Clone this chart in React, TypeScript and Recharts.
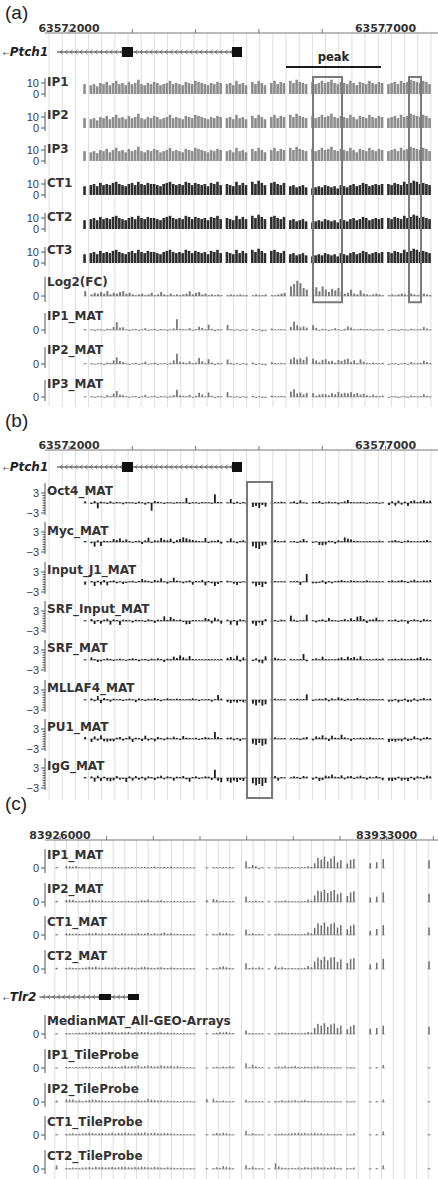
import React from 'react';
import { BarChart, Bar, XAxis, YAxis, ComposedChart, ReferenceLine, ReferenceArea } from 'recharts';

const _ = null;
type V = number | null;

// ---------- Panels (a) & (b): Ptch1 locus, 50-bp bins starting at 63571625 ----------
const ptchIP: V[] = [
  _,_,_,_,_,_,_,_,_,_,_,_, 9, _,
  8,9,7,10,9,11,8, 10,12,9,10,8,11,9, 10,13,9,8,10,9,11, 10,8,9,10,12,9,10, 9,8,11,10,9,12,11, 10,9,8,10,9,11,10,
  _, 9,10,8,12,9,10,8, _, 11,9,12,10,8, _, 10,12,9,11,10, _, 12,10,13,11,10,9, _,
  11,9,10,12,10,11,13, 10,9,11,10,9,12,10, 8,11,10,9,12,10,9, 11,10,
  _, 9,10,11,9,12,10,11, 13,12,11,10,12,11,9, _,_,
];
const ptchCT: V[] = [
  _,_,_,_,_,_,_,_,_,_,_,_, 8, _,
  9,10,8,11,9,10,9, 11,12,10,9,8,10,11, 9,12,10,9,11,10,10, 9,8,10,11,12,10,9, 10,9,12,11,9,11,10, 9,10,8,11,10,12,9,
  _, 10,9,8,12,9,11,9, _, 12,10,13,11,9, _, 11,12,10,9,11, _, 8,9,7,8,9,7, _,
  6,7,8,7,9,8,7, 8,6,9,8,7,9,10, 8,9,11,10,8,9,10, 9,10,
  _, 10,9,11,10,9,12,10, 11,13,12,10,11,10,9, _,_,
];
const ptchLog2FC: V[] = [
  _,_,_,_,_,_,_,_,_,_,_,_, 0.6, _,
  0.2,0.4,0.3,0.5,0.3,0.6,0.2, 0.4,0.3,0.5,0.6,0.3,0.4,0.2, 0.1,0.2,0.3,0.1,0.2,0.4,0.1, 0.2,0.5,0.2,0.1,0.3,0.1,0.2, 0.1,0.2,0.3,0.6,0.2,0.4,0.5, 0.2,0.3,0.1,0.2,0.1,0.2,0.1,
  _, 0.1,0.2,0.1,0.1,0.2,0.1,0.1, _, 0.1,0.2,0.1,0.1,0.2, _, 0.1,0.1,0.2,0.3,0.4, _, 1.2,1.5,1.9,1.6,1.0,0.8, _,
  0.9,1.1,0.6,1.2,0.8,0.5,0.9, 0.7,1.0,0.6,0.3,0.4,0.8,0.3, 0.2,0.7,0.3,0.2,0.1,0.2,0.3, 0.2,0.1,
  _, 0.1,0.2,0.1,0.2,0.3,0.2,0.1, 0.3,0.2,0.1,0.4,0.3,0.2,0.1, _,_,
];
const ptchIP1MAT: V[] = [
  _,_,_,_,_,_,_,_,_,_,_,_, 0.3, _,
  0.2,-0.3,0.1,0.2,-0.2,0.4,0.3, 1.0,2.6,0.8,0.9,0.2,-0.3,0.1, 0.3,-0.2,0.2,0.6,-0.3,0.1,0.4, -0.2,0.3,0.1,-0.3,0.2,0.5,3.6, 0.4,0.3,0.2,0.6,-0.2,0.3,1.1, 0.7,0.2,1.8,0.4,-0.4,0.3,0.2,
  _, 1.7,0.3,-0.2,0.2,-0.3,0.1,-0.2, _, 0.4,-0.2,0.1,-0.4,-0.3, _, 0.5,0.2,0.1,0.3,0.2, _, 1.0,2.8,1.6,0.9,1.2,0.8, _,
  1.6,0.7,-0.2,0.4,0.3,-0.3,0.2, 0.6,0.1,-0.2,0.4,1.2,0.8,0.3, 0.1,0.4,0.2,0.3,0.1,-0.2,0.2, 0.1,0.3,
  _, -0.2,0.1,0.2,-0.3,0.3,0.2,-0.2, 0.4,0.2,0.1,0.3,1.0,0.5,0.2, _,_,
];
const ptchIP2MAT: V[] = [
  _,_,_,_,_,_,_,_,_,_,_,_, 0.2, _,
  0.3,-0.2,0.2,0.1,-0.3,0.5,0.4, 1.2,2.2,1.0,0.7,0.3,-0.2,0.2, 0.4,-0.3,0.3,0.8,-0.2,0.2,0.5, -0.3,0.2,0.3,-0.2,0.4,1.2,3.4, 0.8,0.6,0.4,0.9,0.3,0.5,2.0, 0.9,0.3,1.6,0.5,-0.3,0.4,0.3,
  _, 1.5,0.4,-0.3,0.3,-0.2,0.2,-0.3, _, 0.5,-0.3,0.2,-0.3,-0.4, _, 0.6,0.3,0.2,0.4,0.2, _, 1.6,2.2,1.5,1.9,1.4,2.4, _,
  1.8,1.2,0.6,1.4,1.6,0.9,1.1, 0.4,1.3,1.0,1.5,1.8,0.7,1.2, 0.4,1.6,0.8,0.3,0.2,0.5,0.3, 0.2,0.4,
  _, -0.2,0.2,0.3,-0.3,0.2,0.3,-0.2, 0.6,0.3,0.2,0.4,1.1,0.6,0.3, _,_,
];
const ptchIP3MAT: V[] = [
  _,_,_,_,_,_,_,_,_,_,_,_, 0.2, _,
  0.2,-0.2,0.3,0.2,-0.2,0.6,0.3, 1.1,2.0,0.8,0.6,0.2,-0.2,0.1, 0.3,-0.3,0.2,0.7,-0.2,0.1,0.4, -0.2,0.3,0.2,-0.2,0.3,0.6,2.4, 0.5,0.4,0.3,0.7,-0.2,0.4,1.4, 0.8,0.2,1.5,0.4,-0.3,0.3,0.2,
  _, 1.6,0.3,-0.2,0.2,-0.3,0.2,-0.2, _, 0.4,-0.2,0.1,-0.3,-0.3, _, 0.5,0.2,0.2,0.3,0.2, _, 1.8,2.6,1.2,1.5,0.9,1.4, _,
  1.3,0.4,0.8,1.0,0.9,0.6,1.3, 0.9,1.7,1.1,1.4,1.2,1.6,1.0, 1.3,0.8,1.1,0.6,0.3,0.8,0.4, 0.3,0.5,
  _, -0.2,0.1,0.3,-0.3,0.2,0.2,-0.2, 0.5,0.3,0.1,0.3,0.9,0.4,0.2, _,_,
];
const oct4MAT: V[] = [
  _,_,_,_,_,_,_,_,_,_,_,_, 0.5, _,
  -0.3,0.6,-1.6,0.4,0.2,-0.3,0.5, -0.2,0.3,0.2,-0.4,0.3,0.2,0.1, -0.3,0.4,0.2,-0.5,0.3,-2.3,0.6, 0.4,0.2,-0.3,0.1,0.2,-0.2,0.3, 0.1,0.2,1.5,-0.3,0.2,0.1,-0.2, 0.3,0.1,0.2,-0.2,2.6,0.3,0.1,
  _, 0.2,1.2,-0.3,0.4,-0.2,0.3,-0.4, _, -1.2,-0.9,-1.5,-0.6,-1.1, _, 0.3,0.1,0.2,0.4,0.1, _, 0.2,0.5,-0.3,0.8,0.2,-0.2, _,
  0.3,0.1,0.6,-0.3,0.2,0.4,0.1, 0.3,-0.4,0.2,0.5,0.9,0.3,0.1, 0.2,0.3,0.1,-0.2,0.2,0.1,0.3, -0.2,0.1,
  _, -0.6,0.5,-0.8,0.7,-0.5,0.4,-0.9, 0.6,0.8,0.3,0.5,0.9,0.4,0.7, _,_,
];
const mycMAT: V[] = [
  _,_,_,_,_,_,_,_,_,_,_,_, 0.3, _,
  -0.4,-1.4,0.5,-1.2,0.4,0.3,0.2, 0.9,0.6,1.1,0.4,0.8,0.3,-0.2, 0.3,0.4,-0.6,0.5,1.3,-0.3,0.5, 0.4,1.2,0.7,0.5,1.0,-0.4,0.6, 0.9,1.4,1.1,0.8,0.6,0.4,0.3, 0.2,1.2,-0.3,0.4,0.3,0.6,-0.5,
  _, 0.3,1.1,0.2,-0.4,0.3,0.5,-0.3, _, -1.3,-1.8,-2.1,-1.1,-0.8, _, 1.0,0.6,0.3,0.2,0.4, _, 0.2,0.3,-0.3,0.4,0.9,0.3, _,
  -0.3,0.2,-0.9,-1.0,-0.8,0.4,0.3, -0.5,0.5,0.3,1.4,1.0,0.8,0.4, 0.3,0.2,0.1,0.2,0.3,0.1,0.2, 0.4,0.2,
  _, 0.2,0.4,0.6,0.3,-0.3,0.2,0.5, 0.3,0.2,0.1,0.3,0.4,0.6,0.2, _,_,
];
const inputJ1MAT: V[] = [
  _,_,_,_,_,_,_,_,_,_,_,_, -0.8, _,
  0.3,-1.2,0.4,-0.8,0.6,-1.0,0.3, 0.5,-0.4,0.2,-0.6,-0.3,0.2,0.4, -0.2,0.3,0.9,0.5,0.3,-0.3,0.6, 0.4,1.1,0.2,-0.5,0.3,1.3,0.4, 0.2,-0.4,0.3,0.5,-0.8,0.3,0.2, 0.6,-1.0,0.3,-0.4,-1.2,-0.6,0.3,
  _, 0.4,0.2,-0.5,-0.9,-0.3,0.2,-0.2, _, -0.4,-1.3,-0.9,-1.5,-0.6, _, 0.8,0.3,0.2,0.1,0.2, _, 0.1,0.2,0.3,-0.9,0.2,2.4, _,
  -0.4,-0.4,-0.3,0.5,-0.6,0.3,-0.4, 0.2,0.4,0.6,0.3,0.2,0.5,0.4, 0.3,0.2,0.3,0.5,0.2,0.1,0.3, 0.2,0.1,
  _, 0.3,0.5,0.2,0.4,0.6,0.3,-0.3, 0.4,0.7,0.3,0.2,0.5,0.4,0.6, _,_,
];
const srfInputMAT: V[] = [
  _,_,_,_,_,_,_,_,_,_,_,_, 0.2, _,
  0.6,-0.9,0.3,-0.8,0.4,0.7,-1.1, 0.5,0.3,-1.2,0.4,0.3,0.2,-0.5, 0.4,0.3,0.2,-0.3,0.5,0.3,-0.6, 0.4,0.3,1.4,0.3,1.2,0.6,0.2, 0.4,-0.3,-1.0,-0.9,0.3,0.2,0.1, 0.2,0.9,0.6,-0.7,1.0,0.5,-0.8,
  _, 0.4,-1.1,0.3,-1.3,0.5,0.3,-0.6, _, -0.8,-1.4,-0.5,-1.2,0.6, _, 1.2,0.3,-0.2,0.4,0.2, _, 1.6,0.4,-0.3,0.2,0.3,1.9, _,
  0.2,-0.4,0.3,0.5,-0.3,0.9,0.3, 0.2,-0.2,0.3,0.6,0.2,0.8,0.3, 1.3,1.5,0.6,-0.6,0.4,0.5,1.0, 0.3,0.2,
  _, 0.3,0.2,0.5,-0.3,0.4,0.2,-0.8, 0.3,0.5,0.3,-0.4,0.6,0.4,0.3, _,_,
];
const srfMAT: V[] = [
  _,_,_,_,_,_,_,_,_,_,_,_, 0.2, _,
  0.8,0.3,-0.6,-0.4,0.2,0.5,0.3, -0.3,0.2,0.4,0.2,-0.2,0.3,0.5, 0.3,-0.4,0.2,0.3,-0.3,0.4,0.2, 0.5,0.3,-0.6,0.4,0.3,1.0,0.6, 1.4,0.8,0.4,1.2,0.3,0.2,0.1, 0.2,0.1,0.3,0.2,0.1,0.2,0.3,
  _, 0.6,0.9,0.4,1.3,-0.5,0.8,0.3, _, -0.3,0.5,-0.7,-1.0,1.1, _, 1.0,0.7,0.4,0.2,0.3, _, 0.3,0.2,0.1,0.3,1.8,-0.4, _,
  0.3,0.5,0.2,1.0,0.3,0.2,0.1, 0.2,0.5,0.8,0.3,1.0,0.6,0.9, 0.4,1.1,0.2,0.3,0.1,0.2,0.4, 0.3,0.5,
  _, 0.2,0.3,0.4,0.2,0.5,0.3,0.2, 0.4,0.3,0.6,0.9,0.4,0.5,0.3, _,_,
];
const mllaf4MAT: V[] = [
  _,_,_,_,_,_,_,_,_,_,_,_, 0.2, _,
  0.5,-0.4,1.2,-0.9,0.6,0.3,-0.5, 0.4,0.2,0.3,-0.3,0.2,0.4,0.2, -0.6,0.5,0.3,-0.3,0.4,0.2,0.6, 0.3,-0.4,0.2,0.5,0.3,0.2,0.4, 0.3,0.2,0.1,0.3,0.5,0.2,-0.3, 0.2,0.1,0.3,-0.5,0.2,1.5,0.4,
  _, -0.6,-0.9,-0.5,-0.8,-0.4,-0.7,-0.9, _, -1.1,-1.6,-0.8,-1.7,-1.3, _, 0.9,0.4,0.2,0.1,0.2, _, 0.1,0.2,0.4,0.2,0.3,1.7, _,
  -0.3,0.2,0.4,0.3,0.6,-0.4,0.5, 0.2,0.8,0.5,-0.3,0.4,0.2,0.3, 0.6,0.2,0.4,0.1,0.2,0.3,0.1, 0.2,0.3,
  _, -0.5,-0.4,0.3,-0.7,-0.3,0.4,-0.6, -0.5,0.5,-0.4,0.3,0.6,0.2,0.4, _,_,
];
const pu1MAT: V[] = [
  _,_,_,_,_,_,_,_,_,_,_,_, 0.6, _,
  -0.9,0.8,-0.5,1.1,-0.7,-0.8,-0.6, -0.7,0.4,0.6,-0.5,0.3,0.8,-0.9, 0.4,0.3,-0.6,1.0,-0.5,0.3,-0.7, 0.6,0.3,-0.4,0.5,0.2,0.7,0.3, -0.3,0.9,0.4,0.3,0.2,0.4,-0.3, 0.3,0.6,0.4,0.2,2.1,0.6,0.3,
  _, 0.4,0.5,-0.4,0.3,-0.6,0.2,0.4, _, -1.4,-1.8,-1.2,-2.0,-1.6, _, 1.4,0.5,0.2,0.1,0.3, _, 0.2,0.1,0.3,-0.3,0.4,0.6, _,
  -0.4,0.8,0.5,1.1,0.4,-0.6,1.0, 0.4,0.3,1.3,0.5,0.2,-0.6,0.3, 0.2,0.4,0.3,0.2,0.5,0.3,0.2, 0.1,0.2,
  _, -0.9,-0.6,-0.8,-0.5,-0.7,0.5,-0.6, -0.4,0.8,0.3,-0.5,0.4,0.6,0.3, _,_,
];
const iggMAT: V[] = [
  _,_,_,_,_,_,_,_,_,_,_,_, 0.3, _,
  0.5,-1.1,0.7,-0.9,0.4,-0.8,-1.0, -0.7,0.6,-0.5,-0.3,-1.2,0.5,-0.8, 0.6,-0.5,0.4,-0.7,0.5,0.3,-0.6, 0.4,0.7,-0.4,0.5,0.3,-0.8,0.4, 0.3,0.6,-0.4,-1.1,0.3,0.5,-0.3, 0.2,0.5,0.4,-0.6,2.5,-0.8,-1.3,
  _, -1.0,-1.4,-0.8,-1.2,-0.6,-0.9,0.3, _, -1.6,-2.2,-1.8,-2.4,-1.5, _, 1.3,0.6,-0.8,0.3,0.2, _, 0.2,0.5,0.3,-0.3,0.6,0.4, _,
  -0.5,0.4,-0.9,-0.6,0.7,0.5,1.0, 0.4,0.3,0.8,-0.4,0.5,0.6,-0.3, 0.4,0.7,0.3,-0.5,0.4,0.2,0.6, 0.3,-0.7,
  _, -0.8,-0.9,-0.6,0.4,-0.8,-0.5,-0.9, 0.4,-0.6,0.5,0.3,-0.4,0.7,0.5, _,_,
];

// ---------- Panel (c): Tlr2 locus, 70-bp bins starting at 83925680 ----------
const tlrIP1MAT: V[] = [
  _,_,_, 0.3, _,_,
  0.6,0.6,0.5,0.6,0.2,0.1,0.2,0.3, 0.1,0.2,0.1,0.3,0.2,0.1,0.2,0.3, 0.1,0.2,0.1,0.2,0.3,0.2,0.1,0.3, 0.4,0.2,0.3,0.5,0.3,0.2,0.4,0.3, 0.5,0.2,0.3,0.2,0.1,0.2,0.1,0.2,
  _,_,_, 0.2, _, 0.3,0.1,0.2,0.3,0.2,0.4,0.2, _,_,_, 2.2, 0.3,1.0,0.6,-0.4,0.2, _, 0.2, _,
  0.1,0.2,0.1,0.2,0.3,0.2,0.1,0.2,0.2,0.3,0.6,0.4,
  1.6,3.4,2.8,3.8,2.2,3.2,3.9,1.9,2.6, _, 1.5,2.7,3.0, _,_,_,_, 1.6, _, 1.9, _, 3.0,
  _,_,_,_,_,_,_,_,_,_,_,_,_, 2.6, _,_,
];
const tlrIP2MAT: V[] = [
  _,_,_, 0.4, _,_,
  0.7,0.8,0.7,0.3,0.2,0.3,0.4,0.6, 0.8,0.5,0.4,0.6,0.3,0.2,0.4,0.3, 0.2,0.3,0.2,0.4,0.3,0.2,0.4,0.6, 0.5,0.8,0.4,0.3,0.5,0.6,0.3,0.2, 0.3,0.4,0.2,0.3,0.2,0.1,0.2,0.3,
  _,_,_, 0.6, _, 1.0,0.7,0.2,0.4,0.3,0.2,0.3, _,_,_, 1.8, 0.2,0.3,0.5,0.2,0.3, _, 0.2, _,
  0.2,0.1,0.3,0.5,0.2,0.1,0.2,0.1,0.2,0.3,0.8,0.5,
  2.2,3.8,3.5,4.1,3.0,3.6,4.0,2.6,3.1, _, 2.0,3.2,3.6, _,_,_,_, 1.5, _, 1.8, _, 3.2,
  _,_,_,_,_,_,_,_,_,_,_,_,_, 2.8, _,_,
];
const tlrCT1MAT: V[] = [
  _,_,_, 0.3, _,_,
  0.5,0.5,0.4,0.5,0.3,0.2,0.4,0.6, 0.5,0.7,0.4,0.5,0.3,0.6,0.4,0.5, 0.3,0.6,0.4,0.3,0.5,0.4,0.6,0.3, 0.5,0.7,0.4,0.6,0.3,0.5,0.8,0.4, 0.6,0.3,0.4,0.2,0.3,0.2,0.1,0.2,
  _,_,_, 0.2, _, 0.4,0.2,0.8,0.5,0.7,0.3,0.2, _,_,_, 1.8, 0.3,0.6,0.2,0.4,0.2, _, 0.2, _,
  0.3,0.5,0.3,0.2,0.3,0.2,0.3,0.2,0.2,0.4,0.9,0.6,
  2.4,3.9,3.2,4.2,2.8,3.7,4.1,2.5,3.3, _, 1.9,3.1,3.5, _,_,_,_, 1.4, _, 2.0, _, 3.3,
  _,_,_,_,_,_,_,_,_,_,_,_,_, 2.5, _,_,
];
const tlrCT2MAT: V[] = [
  _,_,_, 0.4, _,_,
  0.4,0.5,0.4,0.3,0.2,0.4,0.5,0.7, 0.6,0.8,0.5,0.4,0.6,0.5,0.4,0.6, 0.3,0.5,0.4,0.6,0.5,0.3,0.4,0.6, 0.7,0.5,0.4,0.3,0.5,0.6,0.4,0.3, 0.5,0.4,0.3,0.2,0.3,0.2,0.2,0.1,
  _,_,_, 0.2, _, 0.3,0.2,0.7,0.9,0.6,0.4,0.2, _,_,_, 1.9, 0.3,0.5,0.2,0.6,0.2, _, 0.2, _,
  0.9,0.4,0.6,0.3,0.2,0.3,0.2,0.3,0.2,0.4,1.0,0.6,
  2.5,3.8,3.1,4.1,2.9,3.8,4.0,2.4,3.2, _, 2.0,3.3,3.6, _,_,_,_, 1.5, _, 2.1, _, 3.4,
  _,_,_,_,_,_,_,_,_,_,_,_,_, 2.6, _,_,
];
const tlrMedianMAT: V[] = [
  _,_,_, 0.2, _,_,
  0.3,0.3,0.2,0.3,0.4,0.3,0.5,0.4, 0.6,0.5,0.4,0.6,0.5,0.7,0.6,0.5, 0.4,0.6,0.5,0.7,0.4,0.5,0.6,0.7, 0.5,0.6,0.4,0.5,0.6,0.5,0.4,0.5, 0.3,0.4,0.3,0.2,0.3,0.2,0.1,0.2,
  _,_,_, 0.2, _, 0.3,0.4,0.6,0.5,0.7,0.4,0.3, _,_,_, 1.2, 0.2,0.3,0.2,0.3,0.2, _, 0.2, _,
  0.2,0.4,0.5,0.4,0.3,0.4,0.3,0.2,0.3,0.4,0.7,0.5,
  2.0,3.4,2.8,3.6,2.4,3.2,3.5,2.0,2.8, _, 1.6,2.5,3.0, _,_,_,_, 1.8, _, 2.0, _, 2.8,
  _,_,_,_,_,_,_,_,_,_,_,_,_, 2.4, _,_,
];
const tlrIP1Tile: V[] = [
  _,_,_, 0.2, _,_,
  0.3,0.3,0.2,0.4,0.2,0.3,0.5,0.4, 0.3,0.2,0.4,0.5,0.3,0.6,0.4,0.5, 0.3,0.6,0.8,0.5,0.7,0.6,0.9,0.5, 0.6,0.8,0.7,0.5,0.6,0.9,0.7,0.6, 0.8,0.5,0.7,0.4,0.3,0.2,0.3,0.2,
  _,_,_, 0.2, _, 0.3,0.4,0.2,0.5,0.3,0.6,0.4, _,_,_, 1.6, 0.2,1.1,0.6,0.3,0.2, _, 0.2, _,
  0.3,0.5,0.4,0.6,0.3,0.5,0.7,0.4,0.3,0.5,0.4,0.3,
  0.5,0.6,0.3,0.4,0.2,0.3,0.2,0.1,0.2, _, 0.2,0.3,0.2, _,_,_,_, 0.2, _, 0.3, _, 1.0,
  _,_,_,_,_,_,_,_,_,_,_,_,_, 0.3, _,_,
];
const tlrIP2Tile: V[] = [
  _,_,_, 0.5, _,_,
  0.9,0.8,0.9,0.4,0.6,0.3,0.5,0.7, 0.9,0.8,0.6,0.5,0.4,0.3,0.4,0.3, 0.5,0.3,0.4,0.3,0.5,0.4,0.6,0.4, 0.5,1.1,0.8,0.7,0.5,0.6,0.4,0.5, 0.3,0.4,0.3,0.2,0.3,0.2,0.1,0.2,
  _,_,_, 1.0, _, 1.1,0.4,0.3,0.5,0.3,0.2,0.3, _,_,_, 0.8, 0.2,0.3,0.2,0.3,0.2, _, 0.2, _,
  0.4,0.3,0.6,0.3,0.5,0.4,0.6,0.3,0.5,0.7,0.4,0.3,
  0.3,0.2,0.3,0.2,0.3,0.2,0.1,0.2,0.1, _, 0.2,0.2,0.3, _,_,_,_, 0.2, _, 0.3, _, 0.8,
  _,_,_,_,_,_,_,_,_,_,_,_,_, 0.3, _,_,
];
const tlrCT1Tile: V[] = [
  _,_,_, 0.3, _,_,
  0.4,0.5,0.6,0.3,0.4,0.5,0.6,0.8, 0.7,0.5,0.6,0.7,0.5,0.6,0.8,0.5, 0.7,0.6,0.8,0.7,0.5,0.6,0.8,0.7, 0.9,0.6,0.7,0.8,0.6,0.5,0.7,0.6, 0.5,0.4,0.3,0.4,0.3,0.2,0.3,0.2,
  _,_,_, 0.3, _, 0.4,0.7,0.5,0.8,0.6,0.3,0.2, _,_,_, 1.4, 0.2,0.6,0.3,0.2,0.2, _, 0.2, _,
  0.3,0.4,0.5,0.4,0.5,0.6,0.7,0.8,0.6,0.7,0.5,0.6,
  0.7,0.5,0.6,0.4,0.5,0.3,0.4,0.2,0.3, _, 0.3,0.2,0.6, _,_,_,_, 0.2, _, 0.3, _, 1.2,
  _,_,_,_,_,_,_,_,_,_,_,_,_, 0.3, _,_,
];
const tlrCT2Tile: V[] = [
  _,_,_, 1.2, _,_,
  0.4,0.3,0.5,0.4,0.3,0.5,0.6,0.7, 0.5,0.8,0.6,0.7,0.5,0.6,0.7,0.5, 0.6,0.8,0.7,0.6,0.5,0.7,0.6,0.8, 0.7,0.6,0.5,0.7,0.6,0.5,0.4,0.6, 0.5,0.4,0.3,0.4,0.3,0.2,0.3,0.2,
  _,_,_, 0.2, _, 0.3,0.6,0.4,1.0,0.7,0.5,0.3, _,_,_, 1.3, 0.3,0.8,0.4,0.2,0.2, _, 0.2, _,
  1.9,0.9,0.5,0.4,0.3,0.4,0.3,0.5,0.4,0.6,0.5,0.4,
  0.6,0.7,0.5,0.6,0.4,0.5,0.6,0.3,0.4, _, 0.3,0.2,0.5, _,_,_,_, 0.2, _, 0.3, _, 1.2,
  _,_,_,_,_,_,_,_,_,_,_,_,_, 0.3, _,_,
];

// ---------- axes, genes, annotations ----------
const A_TICKS = [63572000, 63573000, 63574000, 63575000, 63576000, 63577000];
const A_TICK_LABELS = [63572000, 63577000];
const C_TICKS = [83926000, 83927000, 83928000, 83929000, 83930000, 83931000, 83932000, 83933000, 83934000];
const C_TICK_LABELS = [83926000, 83933000];
const COUNT_TICKS = [0, 10];
const ZERO_TICKS = [0];
const B_TICKS = [-3, -2.25, -1.5, -0.75, 0, 0.75, 1.5, 2.25, 3];
const B_TICK_LABELS = [-3, 3];

const PTCH1_SPAN = [63571810, 63574733];
const PTCH1_EXONS = [[63572837, 63573011], [63574575, 63574733]];
const TLR2_SPAN = [83925560, 83927693];
const TLR2_EXONS = [[83926836, 83927093], [83927457, 83927693]];
const PEAK = [63575428, 63576929];
const A_BOXES = [[63575855, 63576313], [63577371, 63577561]];
const B_BOXES = [[63574812, 63575207]];

const A_NAMES = ['IP1', 'IP2', 'IP3', 'CT1', 'CT2', 'CT3', 'Log2(FC)', 'IP1_MAT', 'IP2_MAT', 'IP3_MAT'];
const B_NAMES = ['Oct4_MAT', 'Myc_MAT', 'Input_J1_MAT', 'SRF_Input_MAT', 'SRF_MAT', 'MLLAF4_MAT', 'PU1_MAT', 'IgG_MAT'];
const C_NAMES = ['IP1_MAT', 'IP2_MAT', 'CT1_MAT', 'CT2_MAT', 'MedianMAT_All-GEO-Arrays', 'IP1_TileProbe', 'IP2_TileProbe', 'CT1_TileProbe', 'CT2_TileProbe'];

// ---------- layout (pixels) ----------
const W = 438;
const AXIS_H = 33;
const PAD = 7;
const WIN_A = { lo: 63571621, hi: 63577829, bin0: 63571625, binW: 50 };
const WIN_C = { lo: 83925679, hi: 83934100, bin0: 83925680, binW: 70 };
const FONT = "'DejaVu Sans', sans-serif";
const NUMFONT = "'Liberation Sans', Arial, sans-serif";

type Win = typeof WIN_A;
type Kind = { above: number; below: number; k: number; ticks: number[]; labeled: number[]; labelOff: number };
const K_COUNT: Kind = { above: 16, below: 3, k: 1.1, ticks: COUNT_TICKS, labeled: COUNT_TICKS, labelOff: 12.5 };
const K_FC: Kind = { above: 19, below: 6, k: 8, ticks: ZERO_TICKS, labeled: ZERO_TICKS, labelOff: 14.5 };
const K_MATA: Kind = { above: 17, below: 4, k: 3, ticks: ZERO_TICKS, labeled: ZERO_TICKS, labelOff: 14 };
const K_B: Kind = { above: 20, below: 12, k: 3.33, ticks: B_TICKS, labeled: B_TICK_LABELS, labelOff: 12 };
const K_C: Kind = { above: 19, below: 5, k: 3, ticks: ZERO_TICKS, labeled: ZERO_TICKS, labelOff: 13 };

function gridLines(anchor: number, step: number, lo: number, hi: number) {
  const out: number[] = [];
  let g = anchor - Math.ceil((anchor - lo) / step) * step;
  for (; g <= hi; g += step) if (g > lo) out.push(g);
  return out;
}
const GRID_A = gridLines(63572517, 208, WIN_A.lo, WIN_A.hi);
const GRID_C = gridLines(83930140, 250, WIN_C.lo, WIN_C.hi);

function YTick(props: any) {
  const { x, y, payload, labeled } = props;
  const v = payload.value;
  const lab = labeled.indexOf(v) >= 0;
  const len = lab ? 4 : 2.5;
  return (
    <g>
      <line x1={x - len} x2={x} y1={y} y2={y} stroke="#555" strokeWidth={1} />
      {lab && (
        <text x={x - 6} y={y + 4} textAnchor="end" fontSize={11} fontFamily={NUMFONT} style={{ fill: '#3a3a3a' }}>
          {v < 0 ? '\u2212' + Math.abs(v) : String(v)}
        </text>
      )}
    </g>
  );
}

function CoordTick(props: any) {
  const { x, y, payload, labels } = props;
  if (labels.indexOf(payload.value) < 0) return <g />;
  return (
    <text x={x} y={y + 3} textAnchor="middle" fontSize={11} fontWeight={700} fontFamily={FONT} style={{ fill: '#333' }}>
      {payload.value}
    </text>
  );
}

function Track(p: { zeroY: number; values: V[]; win: Win; kind: Kind; color: string; base?: string; barSize: number; name: string }) {
  const { zeroY, values, win, kind, color, base, barSize, name } = p;
  const rows = values.map((v, i) => ({ pos: win.bin0 + win.binW * (i + 0.5), v })).filter((r) => r.v !== null);
  const h = kind.above + kind.below + 2 * PAD;
  const pitch = (win.binW * (W - 45)) / (win.hi - win.lo);
  const shape = (s: any) => {
    const { x, y, width, height } = s;
    if (x == null || y == null || isNaN(y) || isNaN(height)) return <g />;
    const b = y + height;
    const hh = Math.max(Math.abs(height), 0.7);
    const cx = x + width / 2;
    return (
      <g>
        {base && <line x1={cx - pitch / 2} x2={cx + pitch / 2} y1={b} y2={b} stroke={base} strokeWidth={0.8} />}
        <rect x={x} y={height >= 0 ? b - hh : b} width={width} height={hh} fill={color} />
      </g>
    );
  };
  return (
    <>
      <div style={{ position: 'absolute', left: 0, top: zeroY - kind.above - PAD, width: W, height: h }}>
        <BarChart width={W} height={h} data={rows} margin={{ top: PAD, right: 0, bottom: PAD, left: 0 }}>
          <XAxis type="number" dataKey="pos" domain={[win.lo, win.hi]} hide allowDataOverflow />
          <YAxis
            type="number"
            domain={[-kind.below / kind.k, kind.above / kind.k]}
            allowDataOverflow
            width={45}
            ticks={kind.ticks}
            interval={0}
            tickSize={0}
            tickMargin={0}
            tickLine={false}
            axisLine={{ stroke: '#555' }}
            tick={(tp: any) => <YTick {...tp} labeled={kind.labeled} />}
          />
          <Bar dataKey="v" isAnimationActive={false} barSize={barSize} shape={shape} />
        </BarChart>
      </div>
      <div
        style={{
          position: 'absolute', left: 47, top: zeroY - kind.labelOff - 5.8, fontSize: 12, lineHeight: '12px',
          fontWeight: 700, color: '#333', fontFamily: FONT, whiteSpace: 'nowrap',
        }}
      >
        {name}
      </div>
    </>
  );
}

function Frame(p: { top: number; height: number; win: Win; ticks: number[]; labels: number[]; over?: boolean; children?: any }) {
  const { top, height, win, ticks, labels, over, children } = p;
  const plotH = height - AXIS_H;
  return (
    <div style={{ position: 'absolute', left: 0, top, width: W, height }}>
      <ComposedChart
        width={W}
        height={height}
        data={[{ pos: win.lo }, { pos: win.hi }]}
        margin={{ top: over ? AXIS_H : 0, right: 0, bottom: 0, left: 45 }}
      >
        <XAxis
          type="number"
          dataKey="pos"
          orientation="top"
          domain={[win.lo, win.hi]}
          allowDataOverflow
          hide={!!over}
          height={AXIS_H}
          ticks={ticks}
          interval={0}
          tickSize={4}
          tickMargin={0}
          axisLine={{ stroke: '#777' }}
          tickLine={{ stroke: '#777' }}
          tick={(tp: any) => <CoordTick {...tp} labels={labels} />}
        />
        <YAxis type="number" domain={[0, plotH]} reversed hide allowDataOverflow />
        {children}
      </ComposedChart>
    </div>
  );
}

const geneShape = (s: any) => {
  const { x, y, width, height } = s;
  const cy = y + height / 2;
  const chev: any[] = [];
  for (let cx = x + 4; cx < x + width - 2; cx += 5) {
    chev.push(
      <path key={cx} d={`M${cx + 1.6},${cy - 2.2}L${cx - 0.8},${cy}L${cx + 1.6},${cy + 2.2}`} fill="none" stroke="#444" strokeWidth={0.7} />
    );
  }
  return (
    <g>
      <line x1={x} x2={x + width} y1={cy} y2={cy} stroke="#333" strokeWidth={1} />
      {chev}
    </g>
  );
};

function geneElems(span: number[], exons: number[][], fy: number, half: number, key: string) {
  return [
    <ReferenceArea key={key + 'l'} x1={span[0]} x2={span[1]} y1={fy - 3} y2={fy + 3} ifOverflow="visible" shape={geneShape} />,
    ...exons.map((e, i) => (
      <ReferenceArea key={key + i} x1={e[0]} x2={e[1]} y1={fy - half} y2={fy + half} fill="#111" fillOpacity={1} stroke="none" ifOverflow="visible" />
    )),
  ];
}

function GeneLabel({ y, name }: { y: number; name: string }) {
  return (
    <div style={{ position: 'absolute', left: 3, top: y - 5.8, fontSize: 12, lineHeight: '12px', fontWeight: 700, fontStyle: 'italic', color: '#222', fontFamily: FONT, whiteSpace: 'nowrap' }}>
      <span style={{ fontSize: 8, fontStyle: 'normal', fontWeight: 400, color: '#666' }}>{'\u2190'}</span>
      {name}
    </div>
  );
}

function Letter({ top, text }: { top: number; text: string }) {
  return (
    <div style={{ position: 'absolute', left: 5, top, fontSize: 19, lineHeight: '22px', fontFamily: NUMFONT, color: '#222' }}>{text}</div>
  );
}

// panel geometry
const A_TOP = 0, A_H = 407, A_Z0 = 94, A_PITCH = 33.7, A_GENE_Y = 52, A_PEAK_Y = 67;
const B_TOP = 417, B_H = 383, B_Z0 = 503, B_PITCH = 39.3, B_GENE_Y = 467;
const C_TOP = 807, C_H = 372, C_GENE_Y = 997;
const C_ZEROS = [868, 901.5, 935, 968.5, 1034, 1068, 1101.5, 1135, 1168.5];

const aTracks = [
  { v: ptchIP, kind: K_COUNT, color: '#8d8d8d', bs: 2.6 },
  { v: ptchIP, kind: K_COUNT, color: '#8d8d8d', bs: 2.6 },
  { v: ptchIP, kind: K_COUNT, color: '#8d8d8d', bs: 2.6 },
  { v: ptchCT, kind: K_COUNT, color: '#2e2e2e', bs: 2.6 },
  { v: ptchCT, kind: K_COUNT, color: '#2e2e2e', bs: 2.6 },
  { v: ptchCT, kind: K_COUNT, color: '#2e2e2e', bs: 2.6 },
  { v: ptchLog2FC, kind: K_FC, color: '#7a7a7a', bs: 2, base: '#999' },
  { v: ptchIP1MAT, kind: K_MATA, color: '#7a7a7a', bs: 1.8, base: '#aaa' },
  { v: ptchIP2MAT, kind: K_MATA, color: '#7a7a7a', bs: 1.8, base: '#aaa' },
  { v: ptchIP3MAT, kind: K_MATA, color: '#7a7a7a', bs: 1.8, base: '#aaa' },
];
const bTracks = [oct4MAT, mycMAT, inputJ1MAT, srfInputMAT, srfMAT, mllaf4MAT, pu1MAT, iggMAT];
const cTracks = [tlrIP1MAT, tlrIP2MAT, tlrCT1MAT, tlrCT2MAT, tlrMedianMAT, tlrIP1Tile, tlrIP2Tile, tlrCT1Tile, tlrCT2Tile];

export default function App() {
  const aZero = (i: number) => A_Z0 + A_PITCH * i;
  const bZero = (i: number) => B_Z0 + B_PITCH * i;
  const fyA = (abs: number) => abs - (A_TOP + AXIS_H);
  const fyB = (abs: number) => abs - (B_TOP + AXIS_H);
  const fyC = (abs: number) => abs - (C_TOP + AXIS_H);
  const grid = (g: number[], k: string) => g.map((x) => <ReferenceLine key={k + x} x={x} stroke="#dedede" strokeWidth={1} />);
  return (
    <div style={{ position: 'absolute', left: 0, top: 0, width: W, height: 1179, background: '#fff', overflow: 'hidden' }}>
      {/* ---------------- panel (a) ---------------- */}
      <Letter top={2} text="(a)" />
      <Frame top={A_TOP} height={A_H} win={WIN_A} ticks={A_TICKS} labels={A_TICK_LABELS}>
        {grid(GRID_A, 'ga')}
      </Frame>
      {aTracks.map((t, i) => (
        <Track key={'a' + i} zeroY={aZero(i)} values={t.v} win={WIN_A} kind={t.kind} color={t.color} base={t.base} barSize={t.bs} name={A_NAMES[i]} />
      ))}
      <Frame top={A_TOP} height={A_H} win={WIN_A} ticks={A_TICKS} labels={A_TICK_LABELS} over>
        {geneElems(PTCH1_SPAN, PTCH1_EXONS, fyA(A_GENE_Y), 5, 'pa')}
        <ReferenceArea
          x1={PEAK[0]} x2={PEAK[1]} y1={fyA(A_PEAK_Y) - 1} y2={fyA(A_PEAK_Y) + 1}
          fill="#1a1a1a" fillOpacity={1} stroke="none"
          label={{ value: 'peak', position: 'top', offset: 5, fill: '#222', fontSize: 11.5, fontWeight: 700, fontFamily: FONT }}
        />
        {A_BOXES.map((b, i) => (
          <ReferenceArea key={'ba' + i} x1={b[0]} x2={b[1]} y1={fyA(aZero(0) - 17)} y2={fyA(aZero(6) + 6)} fill="none" stroke="#7a7a7a" strokeWidth={2} />
        ))}
      </Frame>
      <GeneLabel y={A_GENE_Y} name="Ptch1" />

      {/* ---------------- panel (b) ---------------- */}
      <Letter top={410} text="(b)" />
      <Frame top={B_TOP} height={B_H} win={WIN_A} ticks={A_TICKS} labels={A_TICK_LABELS}>
        {grid(GRID_A, 'gb')}
      </Frame>
      {bTracks.map((v, i) => (
        <Track key={'b' + i} zeroY={bZero(i)} values={v} win={WIN_A} kind={K_B} color="#1e1e1e" base="#555" barSize={1.8} name={B_NAMES[i]} />
      ))}
      <Frame top={B_TOP} height={B_H} win={WIN_A} ticks={A_TICKS} labels={A_TICK_LABELS} over>
        {geneElems(PTCH1_SPAN, PTCH1_EXONS, fyB(B_GENE_Y), 5, 'pb')}
        {B_BOXES.map((b, i) => (
          <ReferenceArea key={'bb' + i} x1={b[0]} x2={b[1]} y1={fyB(bZero(0) - 21)} y2={fyB(bZero(7) + 20)} fill="none" stroke="#7a7a7a" strokeWidth={2} />
        ))}
      </Frame>
      <GeneLabel y={B_GENE_Y} name="Ptch1" />

      {/* ---------------- panel (c) ---------------- */}
      <Letter top={793} text="(c)" />
      <Frame top={C_TOP} height={C_H} win={WIN_C} ticks={C_TICKS} labels={C_TICK_LABELS}>
        {grid(GRID_C, 'gc')}
      </Frame>
      {cTracks.map((v, i) => (
        <Track key={'c' + i} zeroY={C_ZEROS[i]} values={v} win={WIN_C} kind={K_C} color={i < 5 ? '#6e6e6e' : '#7c7c7c'} base="#9a9a9a" barSize={1.5} name={C_NAMES[i]} />
      ))}
      <Frame top={C_TOP} height={C_H} win={WIN_C} ticks={C_TICKS} labels={C_TICK_LABELS} over>
        {geneElems(TLR2_SPAN, TLR2_EXONS, fyC(C_GENE_Y), 3, 'tc')}
      </Frame>
      <GeneLabel y={C_GENE_Y} name="Tlr2" />
    </div>
  );
}
